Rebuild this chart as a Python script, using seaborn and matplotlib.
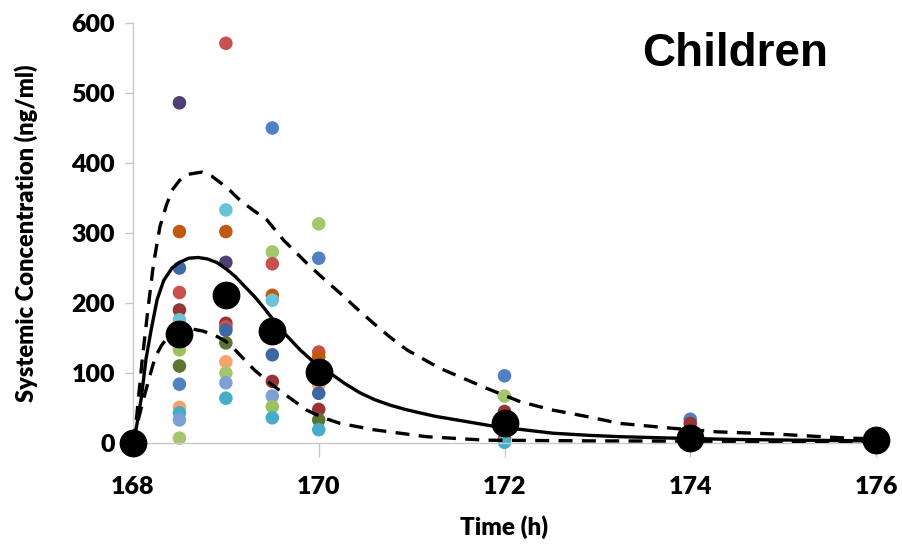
import numpy as np
import pandas as pd
import matplotlib
matplotlib.use("Agg")
import matplotlib.pyplot as plt
import seaborn as sns

# Observed concentrations per subject (time in h, conc in ng/ml)
obs_time = [168.5] * 14 + [169.0] * 12 + [169.5] * 10 + [170.0] * 9 + [172.0] * 5 + [174.0] * 3
obs_conc = [486, 302, 250, 215, 190, 176, 156, 133, 110, 84, 51, 43, 33, 7,
            571, 333, 302, 258, 171, 166, 161, 143, 116, 100, 86, 64,
            450, 273, 256, 211, 204, 126, 88, 67, 52, 36,
            313, 264, 130, 123, 83, 71, 48, 33, 19,
            96, 67, 45, 7, 1,
            34, 28, 0]
obs_subject = ["S1", "S2", "S12", "S4", "S5", "S6", "S3", "S13", "S8", "S3", "S9", "S11", "S10", "S7",
               "S4", "S6", "S2", "S1", "S5", "S4", "S12", "S8", "S9", "S7", "S10", "S11",
               "S3", "S7", "S4", "S2", "S6", "S12", "S5", "S10", "S13", "S11",
               "S7", "S3", "S4", "S2", "S9", "S12", "S5", "S8", "S11",
               "S3", "S7", "S5", "S4", "S11",
               "S3", "S5", "S11"]

subject_colors = {
    "S1": "#4f3f72", "S2": "#c0590f", "S3": "#4f81c4", "S4": "#c8504e",
    "S5": "#973535", "S6": "#6cc3d8", "S7": "#a4c66d", "S8": "#5b7431",
    "S9": "#f7a46b", "S10": "#7fa0d4", "S11": "#45adc8", "S12": "#3d68a3",
    "S13": "#9bc260",
}

# Mean observed concentration
mean_time = [168, 168.5, 169, 169.5, 170, 172, 174, 176]
mean_conc = [0, 156, 211, 160, 102, 28, 7, 4]

# Model prediction: median
med_time = [168.0, 168.04, 168.09, 168.14, 168.2, 168.26, 168.33, 168.42, 168.5, 168.6,
            168.7, 168.8, 168.9, 169.0, 169.1, 169.2, 169.31, 169.41, 169.51, 169.65,
            169.8, 169.95, 170.12, 170.28, 170.44, 170.6, 170.77, 170.93, 171.09, 171.26,
            171.44, 171.88, 172.2, 172.52, 172.9, 173.24, 173.81, 174.5, 175.2, 176.0]
med_conc = [0, 25, 65, 120, 165, 205, 232, 250, 258, 264,
            265, 263, 258, 249, 238, 224, 209, 193, 176, 154,
            133, 115, 100, 85, 72, 62, 54, 48, 43, 38,
            34, 24, 19, 14, 11, 9, 7, 5, 4, 3]

# Model prediction: 95th percentile
hi_time = [168.0, 168.04, 168.1, 168.16, 168.22, 168.29, 168.36, 168.42, 168.5, 168.6,
           168.74, 168.85, 168.95, 169.05, 169.15, 169.3, 169.44, 169.62, 169.87,
           170.05, 170.23, 170.41, 170.59, 170.77, 170.95, 171.3, 171.81,
           172.17, 172.52, 172.88, 173.24, 173.81, 174.28, 174.89, 175.68, 176.0]
hi_conc = [0, 38, 120, 190, 255, 309, 340, 361, 375, 384,
           387, 381, 371, 360, 347, 332, 319, 290, 257,
           235, 214, 192, 171, 151, 133, 107, 78,
           59, 47, 38, 28, 21, 16, 13, 7, 6]

# Model prediction: 5th percentile
lo_time = [168.0, 168.06, 168.13, 168.19, 168.24, 168.31, 168.38, 168.5, 168.63, 168.75,
           168.88, 169.0, 169.1, 169.2, 169.31, 169.46, 169.62, 169.87, 170.05,
           170.23, 170.59, 171.16, 171.8, 173.0, 176.0]
lo_conc = [0, 35, 71, 100, 123, 140, 152, 160, 163, 160,
           154, 145, 133, 119, 104, 87, 71, 47, 36,
           28, 19, 9, 4, 3, 2]

sns.set_theme(style="white")
plt.rcParams["font.family"] = ["Lato", "DejaVu Sans"]
plt.rcParams["text.color"] = "black"
plt.rcParams["axes.labelcolor"] = "black"
plt.rcParams["xtick.labelcolor"] = "black"
plt.rcParams["ytick.labelcolor"] = "black"

fig = plt.figure(figsize=(9.02, 5.45), dpi=100)
ax = fig.add_axes([133 / 902, 1 - 443 / 545, (876 - 133) / 902, (443 - 23) / 545])

obs = pd.DataFrame({"time": obs_time, "conc": obs_conc, "subject": obs_subject})
sns.scatterplot(data=obs, x="time", y="conc", hue="subject", palette=subject_colors,
                s=95, linewidth=0, legend=False, ax=ax, clip_on=False, zorder=2)

sns.lineplot(x=lo_time, y=lo_conc, color="black", lw=2.4, ax=ax, zorder=3)
sns.lineplot(x=hi_time, y=hi_conc, color="black", lw=2.4, ax=ax, zorder=3)
sns.lineplot(x=med_time, y=med_conc, color="black", lw=2.4, ax=ax, zorder=3)
for ln in ax.lines[:2]:
    ln.set_dashes((4.2, 2.8))
for ln in ax.lines:
    ln.set_solid_capstyle("butt")
    ln.set_dash_capstyle("butt")
    ln.set_solid_joinstyle("round")

sns.scatterplot(x=mean_time, y=mean_conc, color="black", s=400, linewidth=0,
                ax=ax, clip_on=False, zorder=4)

ax.set_xlim(168, 176)
ax.set_ylim(0, 600)
ax.set_xticks([168, 170, 172, 174, 176])
ax.set_yticks([0, 100, 200, 300, 400, 500, 600])

for side in ["top", "right"]:
    ax.spines[side].set_visible(False)
for side in ["left", "bottom"]:
    ax.spines[side].set_color("#c8c8c8")
    ax.spines[side].set_linewidth(1.0)

ax.tick_params(axis="y", which="major", left=True, length=6, width=1, color="#c8c8c8",
               labelsize=18, pad=7)
ax.tick_params(axis="x", which="major", bottom=True, length=10, width=1, color="#c8c8c8",
               labelsize=18, pad=14)
for lab in ax.get_xticklabels() + ax.get_yticklabels():
    lab.set_fontweight("heavy")

ax.set_xlabel("Time (h)", fontsize=17.5, fontweight="heavy", labelpad=12)
ax.set_ylabel("Systemic Concentration (ng/ml)", fontsize=17, fontweight="heavy", labelpad=24)

fig.text(735 / 902, 1 - 54 / 545, "Children", fontsize=33, fontweight="bold",
         family=["Liberation Sans", "DejaVu Sans"], ha="center", va="center")

fig.savefig("out.png", dpi=100)
